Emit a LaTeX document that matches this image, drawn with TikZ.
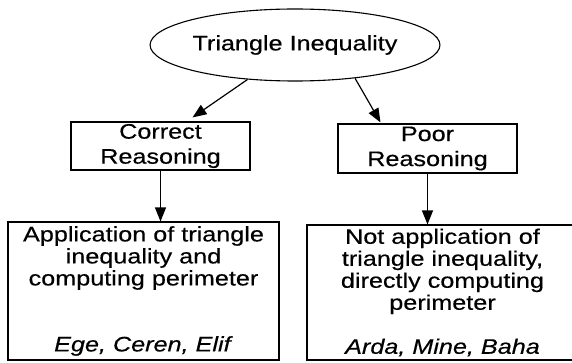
\documentclass[tikz,border=0pt]{standalone}
\usepackage{fontspec}
\setmainfont[FakeStretch=1.2,FakeBold=0.4]{Liberation Sans}
\usetikzlibrary{arrows.meta,positioning,shapes.geometric}
\tikzset{
  >={Triangle[length=14pt,width=11pt]},
  topic/.style={ellipse, draw, line width=1.1pt, minimum width=268pt,
              minimum height=72pt, inner sep=0pt, font=\fontsize{21}{22}\selectfont},
  kind/.style={draw, line width=1.1pt, minimum width=179pt, minimum height=48pt,
              align=center, inner sep=0pt, font=\fontsize{21}{25}\selectfont},
  detail/.style={draw, line width=1.1pt, minimum width=271pt, align=center,
              inner sep=0pt, font=\fontsize{21}{22}\selectfont},
  flow/.style={->, line width=1.2pt},
}

\begin{document}
\begin{tikzpicture}[x=1pt,y=-1pt]
  \useasboundingbox (0,0) rectangle (572,363);
  \node[topic] (tri) at (295,45) {Triangle Inequality};
  \node[kind] (good) at (160.5,146) {Correct\\Reasoning};
  \node[kind,minimum height=49pt] (poor) at (427.5,148.5) {Poor\\Reasoning};
  \node[detail,minimum height=138pt] (goodex) at (143.5,291)
        {Application of triangle\\inequality and\\computing perimeter\\[44pt]\textit{Ege, Ceren, Elif}};
  \node[detail,minimum height=135pt] (poorex) at (442.5,292.5)
        {Not application of\\triangle inequality,\\directly computing\\perimeter\\[22pt]\textit{Arda, Mine, Baha}};
  % arrows
  \draw[flow] (tri.216) -- ([xshift=32pt,yshift=4pt]good.north);
  \draw[flow] (tri.331) -- ([xshift=-47pt,yshift=1pt]poor.north);
  \draw[flow] (good.south) -- (good.south |- goodex.north);
  \draw[flow] (poor.south) -- (poor.south |- poorex.north);
\end{tikzpicture}
\end{document}
